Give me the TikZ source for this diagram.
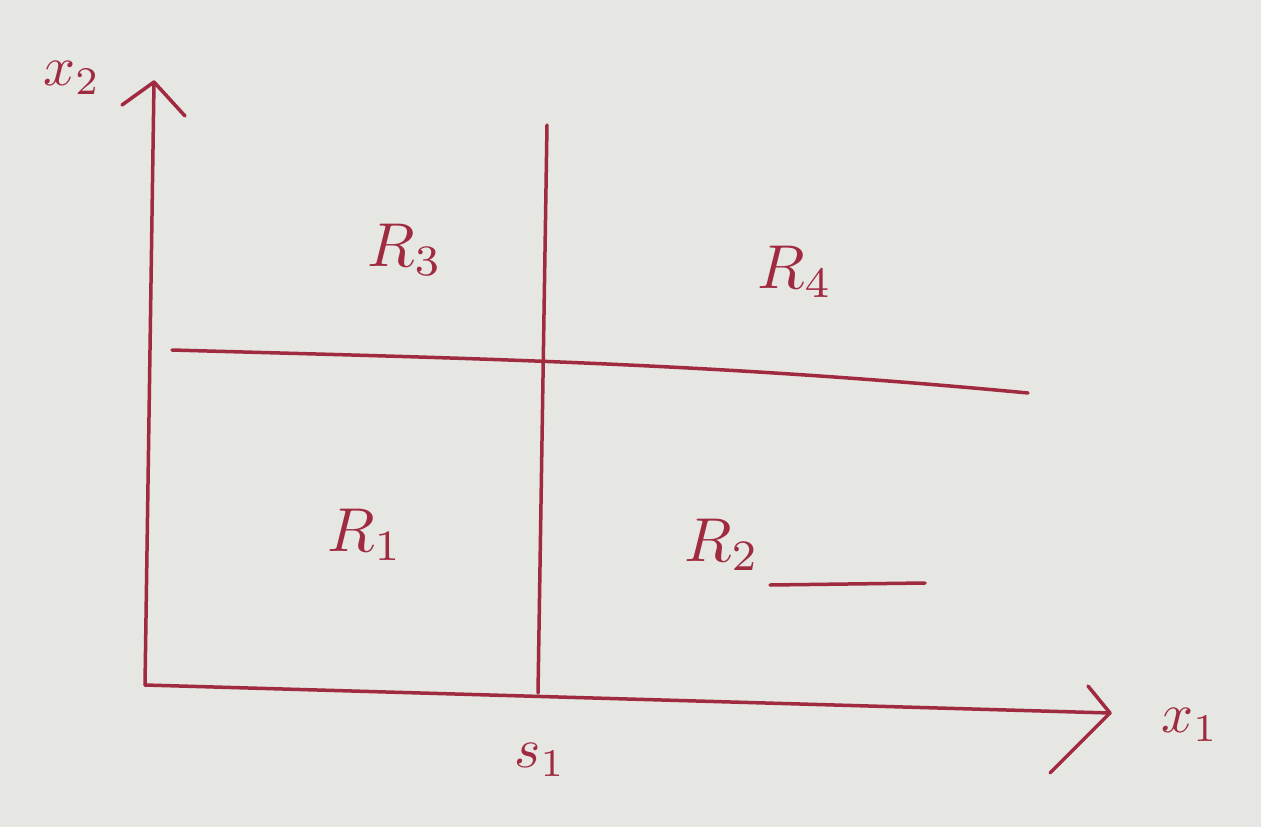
\documentclass[tikz,border=0pt]{standalone}
\usepackage{graphicx}
\usepackage{tikz}
\definecolor{paper}{HTML}{E6E6E2}
\definecolor{ink}{HTML}{A02A40}
\newcommand{\bigR}[1]{\scalebox{6.2}{$#1$}}
\newcommand{\bigX}[1]{\scalebox{5.6}{$#1$}}
\tikzset{
  pen/.style={draw=ink, line width=3.5pt, line cap=round, line join=round},
  lbl/.style={text=ink, inner sep=0pt},
}
\begin{document}
\begin{tikzpicture}[x=1pt,y=-1pt]
\fill[paper] (0,0) rectangle (1261,827);
\useasboundingbox (0,0) rectangle (1261,827);
% axes
\coordinate (O) at (145,685);
\coordinate (ytop) at (154,82);
\coordinate (xend) at (1110,713);
\draw[pen] (O) -- (ytop);
\draw[pen] (122,105) -- (ytop) -- (185,116);
\draw[pen] (O) -- (xend);
\draw[pen] (1088,686) -- (xend) -- (1050,773);
% split lines
\coordinate (vtop) at (547,125);
\coordinate (vbot) at (538,693);
\draw[pen] (vtop) -- (vbot);
\coordinate (hl) at (172,350);
\coordinate (hr) at (1028,393);
\draw[pen] (hl) .. controls (450,358) and (700,362) .. (hr);
% region labels
\node[lbl] (r3) at (405,250) {\bigR{R_3}};
\node[lbl] (r4) at (795,272) {\bigR{R_4}};
\node[lbl] (r1) at (365,535) {\bigR{R_1}};
\node[lbl] (r2) at (722,545) {\bigR{R_2}};
\draw[pen] (770,585) -- (925,583);
% axis labels
\node[lbl] (x2) at (72,78) {\bigX{x_2}};
\node[lbl] (x1) at (1190,725) {\bigX{x_1}};
\node[lbl] (s1) at (540,760) {\bigX{s_1}};
\end{tikzpicture}
\end{document}
